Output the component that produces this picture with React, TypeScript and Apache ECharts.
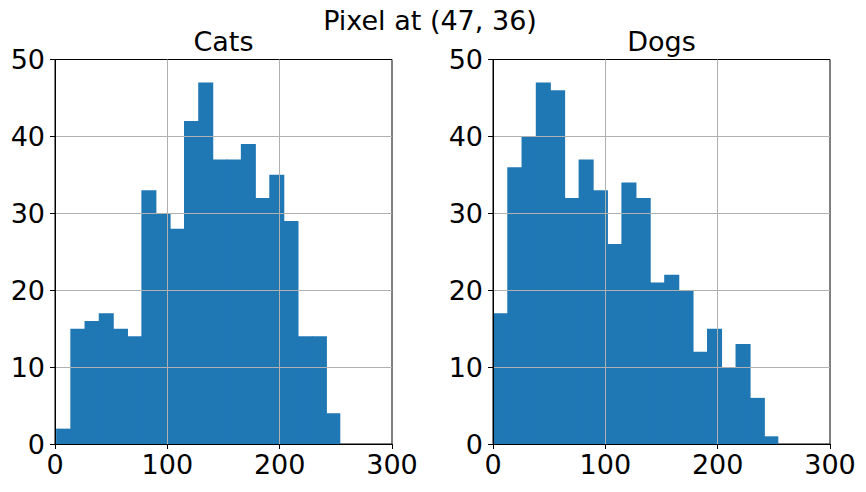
import React, { useEffect, useRef } from "react";
import * as echarts from "echarts";

const catsCounts = [2, 15, 16, 17, 15, 14, 33, 30, 28, 42, 47, 37, 37, 39, 32, 35, 29, 14, 14, 4];
const dogsCounts = [17, 36, 40, 47, 46, 32, 37, 33, 26, 34, 32, 21, 22, 20, 12, 15, 10, 13, 6, 1];
const catsRange = [1, 254];
const dogsRange = [0, 254];
const xTicks = { min: 0, max: 300, interval: 100 };
const yTicks = { min: 0, max: 50, interval: 10 };
const panelTitles = ["Cats", "Dogs"];
const supTitle = "Pixel at (47, 36)";

const FONT = "DejaVu Sans";
const FS = 27;
const BAR = "#1f77b4";

function binData(counts: number[], range: number[]) {
  const n = counts.length;
  const w = (range[1] - range[0]) / n;
  return counts.map((c, i) => [range[0] + i * w, range[0] + (i + 1) * w, c, i === n - 1 ? 0 : 1]);
}

export default function App() {
  const ref = useRef<HTMLDivElement>(null);
  useEffect(() => {
    if (!ref.current) return;
    const chart = echarts.init(ref.current, null, { renderer: "svg" });
    const grids = [
      { left: 55, right: 474, top: 59.5, bottom: 48 },
      { left: 493, right: 36, top: 59.5, bottom: 48 },
    ].map((g) => ({ ...g, show: true, borderColor: "#000", borderWidth: 1, backgroundColor: "transparent" }));

    const mkX = (gi: number) => ({
      type: "value",
      gridIndex: gi,
      min: xTicks.min,
      max: xTicks.max,
      interval: xTicks.interval,
      z: 5,
      axisLine: { show: true, onZero: false, lineStyle: { color: "#000", width: 1 } },
      axisTick: { show: true, length: 5, lineStyle: { color: "#000", width: 1 } },
      axisLabel: { fontSize: FS, fontFamily: FONT, color: "#000", margin: 7 },
      splitLine: { show: true, showMinLine: false, showMaxLine: false, lineStyle: { color: "#b0b0b0", width: 1 } },
    });
    const mkY = (gi: number) => ({
      type: "value",
      gridIndex: gi,
      min: yTicks.min,
      max: yTicks.max,
      interval: yTicks.interval,
      z: 5,
      axisLine: { show: true, onZero: false, lineStyle: { color: "#000", width: 1 } },
      axisTick: { show: true, length: 5, lineStyle: { color: "#000", width: 1 } },
      axisLabel: { fontSize: FS, fontFamily: FONT, color: "#000", margin: 10 },
      splitLine: { show: true, showMinLine: false, showMaxLine: false, lineStyle: { color: "#b0b0b0", width: 1 } },
    });

    const renderItem = (params: any, api: any) => {
      const p0 = api.coord([api.value(0), 0]);
      const p1 = api.coord([api.value(1), api.value(2)]);
      const overlap = api.value(3) ? 0.8 : 0;
      return {
        type: "rect",
        shape: { x: p0[0], y: p1[1], width: p1[0] - p0[0] + overlap, height: p0[1] - p1[1] },
        style: { fill: BAR },
      };
    };

    const mkSeries = (gi: number, data: number[][]) => ({
      type: "custom",
      xAxisIndex: gi,
      yAxisIndex: gi,
      renderItem,
      encode: { x: [0, 1], y: 2 },
      data,
      z: 2,
    });

    chart.setOption({
      animation: false,
      title: [
        { text: supTitle, left: 430, top: 7, textAlign: "center", textStyle: { fontSize: FS, fontFamily: FONT, fontWeight: "normal", color: "#000" }, padding: 0 },
        { text: panelTitles[0], left: 223.5, top: 28, textAlign: "center", textStyle: { fontSize: FS, fontFamily: FONT, fontWeight: "normal", color: "#000" }, padding: 0 },
        { text: panelTitles[1], left: 661.5, top: 28, textAlign: "center", textStyle: { fontSize: FS, fontFamily: FONT, fontWeight: "normal", color: "#000" }, padding: 0 },
      ],
      grid: grids,
      xAxis: [mkX(0), mkX(1)],
      yAxis: [mkY(0), mkY(1)],
      series: [mkSeries(0, binData(catsCounts, catsRange)), mkSeries(1, binData(dogsCounts, dogsRange))],
    });
    return () => chart.dispose();
  }, []);
  return (
    <div
      ref={ref}
      style={{ position: "fixed", left: 0, top: 0, width: 866, height: 492, background: "#fff" }}
    />
  );
}
